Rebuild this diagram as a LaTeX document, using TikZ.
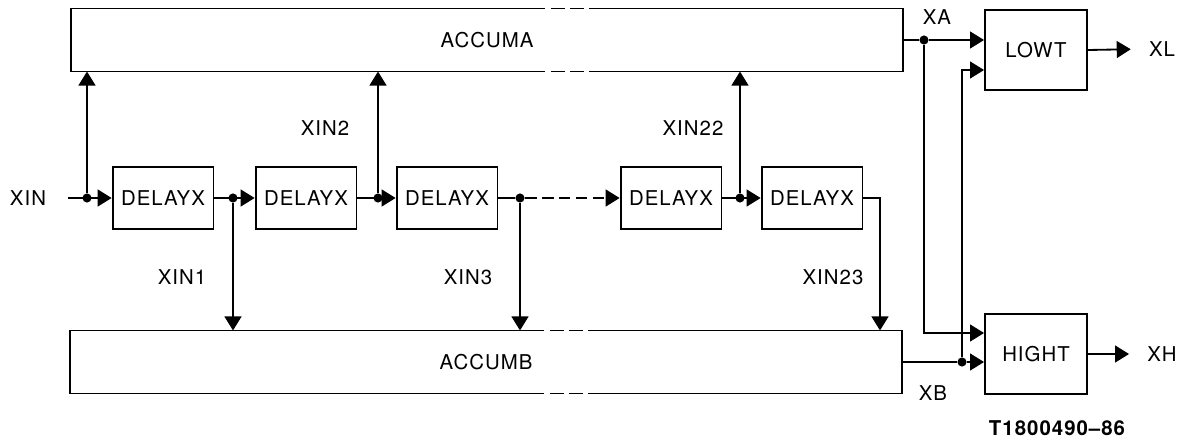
\documentclass[tikz,border=0pt]{standalone}
\usepackage{fontspec}
\setmainfont{TeX Gyre Heros}[LetterSpace=5]
\usetikzlibrary{arrows.meta,calc}

\begin{document}
\begin{tikzpicture}[x=0.025cm,y=-0.025cm,line width=1.3pt,
  font=\fontsize{14.5}{17}\selectfont,
  blok/.style={draw,minimum width=2.52cm,minimum height=1.57cm,inner sep=1pt},
  accu/.style={minimum width=20.75cm,minimum height=1.53cm},
  sig/.style={-{Triangle[length=10pt,width=12pt]}},
  dot/.style={circle,fill,inner sep=0pt,minimum size=6.5pt},
  gap/.style={dash pattern=on 10pt off 4pt}]

\useasboundingbox (0,0) rectangle (1186,441);

% Accumulateurs
\node[accu] (acca) at (487,40) {ACCUMA};
\node[accu] (accb) at (486,362) {ACCUMB};

\foreach \n in {acca,accb}
{
\draw ($(\n.north west)+(460,0)$) -| (\n.south west) -- +(460,0);
\draw ($(\n.north east)+(-314,0)$) -| (\n.south east) -- +(-314,0);
\draw[gap] ($(\n.north west)+(460,0)$) -- ($(\n.north east)+(-314,0)$);
\draw[gap] ($(\n.south west)+(460,0)$) -- ($(\n.south east)+(-314,0)$);
}

% Retards
\foreach \i/\x in {1/163,2/306,3/447,4/671,5/812}
{
\node[blok] (d\i) at (\x,198) {DELAYX};
}

\foreach \j/\x in {0/87,1/233,2/378,3/520,4/740}
{
\node[dot] (j\j) at (\x,198) {};
}

% Entree
\node (xin) at (28,198) {XIN};
\coordinate (in) at (68,198);
\draw[sig] (in) -- (d1.west);
\draw[sig] (d1.east) -- (d2.west);
\draw[sig] (d2.east) -- (d3.west);
\draw (d3.east) -- (j3);
\draw[sig,dash pattern=on 8pt off 4pt] (j3) -- (d4.west);
\draw[sig] (d4.east) -- (d5.west);

% Prises
\draw[sig] (j0) -- (j0 |- acca.south);
\draw[sig] (j1) -- (j1 |- accb.north);
\draw[sig] (j2) -- (j2 |- acca.south);
\draw[sig] (j3) -- (j3 |- accb.north);
\draw[sig] (j4) -- (j4 |- acca.south);
\coordinate (c23) at (880,198);
\draw[sig] (d5.east) -| (accb.north -| c23);

\node (xin1) at (182,277) {XIN1};
\node (xin2) at (325,128) {XIN2};
\node (xin3) at (468,277) {XIN3};
\node (xin22) at (693,128) {XIN22};
\node (xin23) at (833,277) {XIN23};

% Sorties
\node[blok,minimum width=2.55cm,minimum height=1.98cm] (lowt) at (1036,50) {LOWT};
\node[blok,minimum width=2.55cm,minimum height=1.98cm] (higt) at (1036,354) {HIGHT};

\node[dot] (ja) at (924,40) {};
\node[dot] (jb) at (962,362) {};
\draw (acca.east) -- (ja);
\draw[sig] (ja) -- (ja -| lowt.west);
\draw[sig] (ja) |- ($(higt.west)+(0,-21)$);
\draw (accb.east) -- (jb);
\draw[sig] (jb) -- (jb -| higt.west);
\draw[sig] (jb) |- ($(lowt.west)+(0,20)$);

\node (xa) at (937,17) {XA};
\node (xb) at (933,393) {XB};
\node (xl) at (1162,49) {XL};
\node (xh) at (1162,354) {XH};
\draw[sig,shorten >=9pt] (lowt.east) -- (xl.west);
\draw[sig,shorten >=9pt] (higt.east) -- (xh.west);

\node[font=\fontsize{14.5}{17}\selectfont\bfseries] (ref) at (1057,428) {T1800490--86};

\end{tikzpicture}
\end{document}
